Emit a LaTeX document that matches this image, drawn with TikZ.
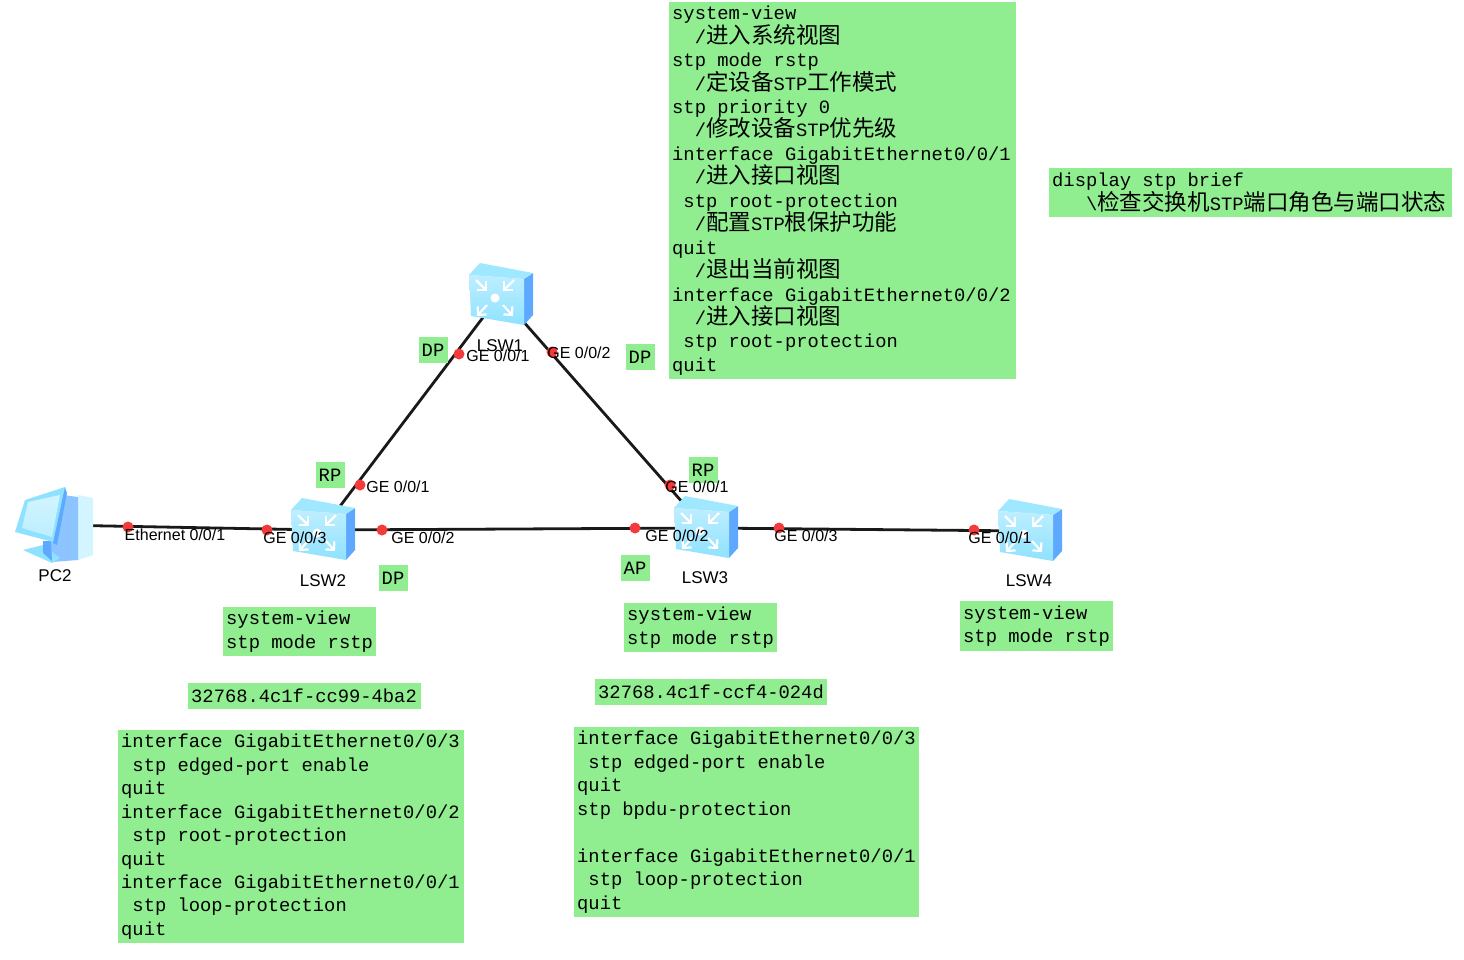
\documentclass[tikz,border=0pt]{standalone}
\usepackage{fontspec}
\setmainfont{Liberation Sans}
\newfontfamily\codefont{Liberation Mono}
\newfontfamily\cjkfont{Noto Sans CJK SC}
\usetikzlibrary{arrows.meta}
\definecolor{boxgreen}{HTML}{90EE90}
\definecolor{iconpale}{HTML}{D2F5FF}
\definecolor{iconlight}{HTML}{BDEEFF}
\definecolor{iconmid}{HTML}{8FE2FF}
\definecolor{iconside}{HTML}{5FA8FF}
\definecolor{icontower}{HTML}{8CC4FF}
\definecolor{icontop}{HTML}{A0E8FF}
\definecolor{portred}{HTML}{F43A3A}
\newcommand{\zh}[1]{{\cjkfont\fontsize{22.5}{23.45}\selectfont #1}}
\newcommand{\codesize}{\codefont\fontsize{18.8}{23.45}\selectfont}
\tikzset{
  codebox/.style={fill=boxgreen,anchor=north west,align=flush left,inner xsep=3pt,inner ysep=0pt,
    font=\codesize},
  tagbox/.style={fill=boxgreen,minimum width=29pt,minimum height=26pt,inner sep=0pt,
    font=\codesize},
  portdot/.style={circle,fill=portred,minimum size=11pt,inner sep=0pt},
  portlabel/.style={inner sep=0pt,font=\fontsize{16}{18}\selectfont},
  devlabel/.style={inner sep=0pt,font=\fontsize{17}{19}\selectfont},
  dev/.style={inner sep=0pt,minimum size=1pt},
  link/.style={line width=2.8pt,black!90},
  swarrow/.style={white,line width=2.2pt,-{Straight Barb[length=6pt,width=12pt]}},
  switchicon/.pic={
    \path[fill=iconside] (24,-16) -- (33,-22) -- (33,20) -- (24,30) -- cycle;
    \path[fill=icontop] (-31,-20) -- (-20,-32) -- (33,-22) -- (24,-16) -- cycle;
    \path[top color=iconlight,bottom color=iconmid] (-31,-20) -- (24,-16) -- (24,30) -- (-29,21) -- cycle;
    \foreach \dx in {-1,1}
      \draw[swarrow] (-5+19*\dx,3-18) -- (-5+8*\dx,3-7);
    \foreach \dx in {-1,1}
      \draw[swarrow] (-5+8*\dx,3+7) -- (-5+18*\dx,3+18);
    \path[fill=white] (-5,3) circle (4.5);
  },
  pcicon/.pic={
    \path[fill=iconpale] (23,-30) -- (38,-27) -- (38,30) -- (23,35) -- cycle;
    \path[fill=icontower] (8,-30) -- (23,-28) -- (23,35) -- (-3,37) -- (-6,16) -- cycle;
    \path[fill=iconmid] (-32,25) -- (-12,20) -- (5,33) -- (-3,38) -- cycle;
    \path[fill=iconside] (-12,16) -- (-4,16) -- (-3,36) -- (-12,28) -- cycle;
    \path[fill=iconmid] (-30,-25) -- (10,-38) -- (2,18) -- (-40,7) -- cycle;
    \path[fill=iconside] (10,-38) -- (12,-32) -- (2,20) -- (-2,18) -- cycle;
    \path[top color=iconpale,bottom color=iconlight] (-27,-23) -- (5,-30) -- (-3,12) -- (-33,3) -- cycle;
  }
}
\begin{document}
\begin{tikzpicture}[x=1pt,y=-1pt]
\useasboundingbox (0,0) rectangle (1464,960);

\node[dev] (pc2) at (55,525) {};
\node[dev] (lsw1) at (500,295) {};
\node[dev] (lsw2) at (322,530) {};
\node[dev] (lsw3) at (705,528) {};
\node[dev] (lsw4) at (1029,531) {};

\draw[link] (pc2) -- (lsw2);
\draw[link] (lsw2) -- (lsw3);
\draw[link] (lsw3) -- (lsw4);
\draw[link] (lsw1) -- (lsw2);
\draw[link] (lsw1) -- (lsw3);

\pic at (pc2) {pcicon};
\foreach \sw in {lsw1,lsw2,lsw3,lsw4}
  \pic at (\sw) {switchicon};

\node[tagbox] (t1) at (433,350) {DP};
\node[tagbox] (t2) at (640,357) {DP};
\node[tagbox] (t3) at (330,475) {RP};
\node[tagbox] (t4) at (703,470) {RP};
\node[tagbox] (t5) at (393,578) {DP};
\node[tagbox] (t6) at (635,568) {AP};

\node[portdot] (p1) at (459,354) {};
\node[portdot] (p2) at (552,352) {};
\node[portdot] (p3) at (360,485) {};
\node[portdot] (p4) at (670,485) {};
\node[portdot] (p5) at (128,527) {};
\node[portdot] (p6) at (267,530) {};
\node[portdot] (p7) at (382,530) {};
\node[portdot] (p8) at (635,528) {};
\node[portdot] (p9) at (779,528) {};
\node[portdot] (p10) at (974,530) {};

\node[devlabel] (n1) at (500,346) {LSW1};
\node[devlabel] (n2) at (323,581) {LSW2};
\node[devlabel] (n3) at (705,578) {LSW3};
\node[devlabel] (n4) at (1029,581) {LSW4};
\node[devlabel] (n5) at (55,576) {PC2};

\node[portlabel] (g1) at (498,356) {GE 0/0/1};
\node[portlabel] (g2) at (579,353) {GE 0/0/2};
\node[portlabel] (g3) at (398,487) {GE 0/0/1};
\node[portlabel] (g4) at (697,487) {GE 0/0/1};
\node[portlabel] (g5) at (175,535) {Ethernet 0/0/1};
\node[portlabel] (g6) at (295,538) {GE 0/0/3};
\node[portlabel] (g7) at (423,538) {GE 0/0/2};
\node[portlabel] (g8) at (677,536) {GE 0/0/2};
\node[portlabel] (g9) at (806,536) {GE 0/0/3};
\node[portlabel] (g10) at (1000,538) {GE 0/0/1};

\node[codebox,text width=341pt,minimum height=377pt] (cfg1) at (669,2) {%
system-view\\
\phantom{xx}/\zh{进入系统视图}\\
stp mode rstp\\
\phantom{xx}/\zh{定设备}STP\zh{工作模式}\\
stp priority 0\\
\phantom{xx}/\zh{修改设备}STP\zh{优先级}\\
interface GigabitEthernet0/0/1\\
\phantom{xx}/\zh{进入接口视图}\\
\phantom{x}stp root-protection\\
\phantom{xx}/\zh{配置}STP\zh{根保护功能}\\
quit\\
\phantom{xx}/\zh{退出当前视图}\\
interface GigabitEthernet0/0/2\\
\phantom{xx}/\zh{进入接口视图}\\
\phantom{x}stp root-protection\\
quit};

\node[codebox,text width=397pt,minimum height=49pt] (cfg2) at (1049,168) {%
display stp brief\\
\phantom{xxx}\textbackslash\zh{检查交换机}STP\zh{端口角色与端口状态}};

\node[codebox,text width=147pt,minimum height=49pt] (cfg3) at (223,607) {system-view\\stp mode rstp};
\node[codebox,text width=147pt,minimum height=49pt] (cfg4) at (624,603) {system-view\\stp mode rstp};
\node[codebox,text width=147pt,minimum height=50pt] (cfg5) at (960,601) {system-view\\stp mode rstp};

\node[codebox,text width=227pt,minimum height=26pt] (id2) at (188,683) {32768.4c1f-cc99-4ba2};
\node[codebox,text width=226pt,minimum height=26pt] (id3) at (595,679) {32768.4c1f-ccf4-024d};

\node[codebox,text width=340pt,minimum height=213pt] (cfg6) at (118,730) {%
interface GigabitEthernet0/0/3\\
\phantom{x}stp edged-port enable\\
quit\\
interface GigabitEthernet0/0/2\\
\phantom{x}stp root-protection\\
quit\\
interface GigabitEthernet0/0/1\\
\phantom{x}stp loop-protection\\
quit};

\node[codebox,text width=339pt,minimum height=190pt] (cfg7) at (574,727) {%
interface GigabitEthernet0/0/3\\
\phantom{x}stp edged-port enable\\
quit\\
stp bpdu-protection\\
\mbox{}\\
interface GigabitEthernet0/0/1\\
\phantom{x}stp loop-protection\\
quit};
\end{tikzpicture}
\end{document}
